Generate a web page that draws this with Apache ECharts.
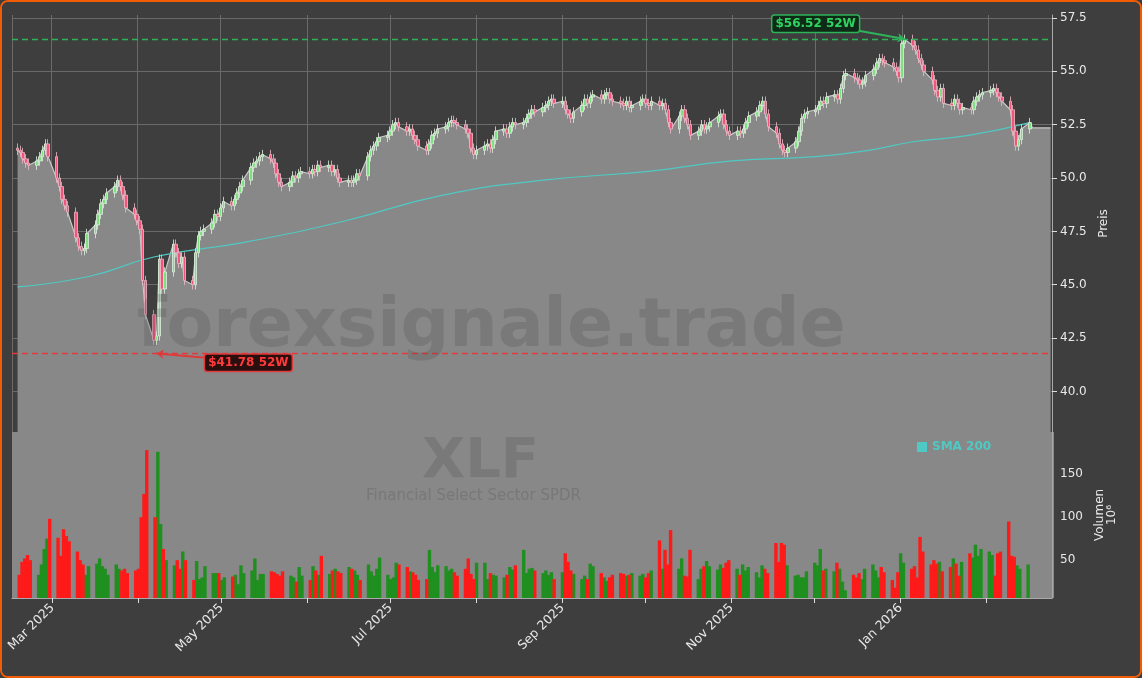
<!DOCTYPE html><html><head><meta charset="utf-8">
<script src="https://cdn.jsdelivr.net/npm/echarts@6/dist/echarts.min.js"></script>
<style>html,body{margin:0;padding:0;background:#3d3d3d}#c{position:absolute;left:0;top:0;width:1138px;height:674px;border:2px solid #f25c05;border-radius:8px;background:#3e3e3e;overflow:hidden}</style>
</head><body><div id="c"></div><script>
const startDate='2025-02-17';
const closes=[
51.3,51.2,50.9,50.7,50.6, 50.8,51.0,51.3,51.6,51.0, 50.0,49.6,49.0,48.7,48.4, 47.2,46.8,46.6,46.7,47.4,
47.8,48.3,48.8,49.0,49.3, 49.6,49.9,49.6,49.2,48.6, 48.3,48.0,47.6,45.2,43.6, 42.4,42.6,46.2,44.8,45.6,
46.9,46.5,46.0,46.3,45.2, 45.0,46.5,47.3,47.5,47.6, 47.9,48.3,48.2,48.6,48.9, 48.7,49.0,49.3,49.6,49.9,
50.5,50.7,50.8,51.0,51.1, 50.9,50.7,50.2,49.8,49.6, 49.8,50.1,50.0,50.2,50.3, 50.2,50.4,50.3,50.6,50.5,
50.6,50.3,50.4,50.0,49.8, 49.9,49.8,49.9,50.2,50.1, 51.0,51.3,51.5,51.7,51.9, 52.0,52.2,52.5,52.6,52.4,
52.2,52.3,52.0,51.8,51.5, 51.3,51.6,52.0,52.1,52.3, 52.4,52.6,52.7,52.6,52.5, 52.3,52.1,51.4,51.1,51.3,
51.5,51.6,51.4,51.8,52.2, 52.3,52.1,52.4,52.6,52.5, 52.6,52.8,53.0,53.2,53.1, 53.3,53.4,53.6,53.7,53.5,
53.6,53.2,53.0,52.8,53.1, 53.4,53.7,53.5,53.8,53.9, 53.7,53.9,54.0,53.7,53.6, 53.5,53.4,53.6,53.3,53.4,
53.6,53.7,53.5,53.4,53.6, 53.4,53.5,53.2,52.6,52.3, 52.9,53.2,52.8,52.5,52.0, 52.2,52.5,52.3,52.4,52.6,
52.9,53.0,52.5,52.2,52.0, 52.2,52.1,52.3,52.6,52.9, 53.1,53.4,53.6,53.0,52.4, 52.1,51.6,51.3,51.2,51.4,
51.7,52.2,52.8,53.0,53.1, 53.2,53.4,53.6,53.5,53.8, 53.9,53.7,54.2,54.8,54.9, 54.7,54.6,54.4,54.5,54.8,
55.1,55.4,55.6,55.5,55.4, 55.2,55.0,54.7,56.3,56.5, 56.2,56.0,55.6,55.3,55.0, 54.6,54.1,53.8,54.2,53.5,
53.4,53.7,53.5,53.2,53.3, 53.2,53.6,53.8,53.9,54.0, 54.1,54.2,54.0,53.8,53.6, 53.2,52.2,51.5,51.8,52.3, 52.6];
const firstOpen=51.4;
const volumes=[
33,48,52,56,50, 33,45,63,75,98, 76,55,86,78,72, 60,50,45,33,43, 46,52,43,40,33, 45,40,38,40,35,
38,40,100,127,178, 100,176,92,63,50, 44,50,40,60,50, 27,49,28,30,43, 35,35,35,27,30, 31,33,22,44,35,
38,52,27,34,34, 37,36,34,32,37, 32,30,25,42,32, 27,43,38,33,55, 34,38,40,37,35, 42,40,38,33,27,
45,37,32,40,53, 33,28,30,47,45, 42,37,36,33,27, 28,62,42,36,44, 43,38,40,36,32, 40,52,34,28,47,
47,28,35,33,32, 30,33,42,39,44, 62,35,40,41,38, 35,38,33,36,28, 36,58,48,38,34, 28,32,28,46,43,
35,30,26,30,33, 35,34,32,33,35, 32,34,30,35,38, 73,40,62,45,85, 40,52,32,31,62, 28,40,43,49,43,
39,45,41,47,50, 40,33,45,38,42, 36,30,44,40,35, 70,48,70,68,44, 32,33,30,30,37, 47,44,63,38,40,
37,47,40,25,15, 33,30,35,28,40, 45,38,30,42,36, 27,18,36,58,47, 40,43,30,77,60, 45,50,46,48,37,
42,52,46,32,48, 58,53,68,55,63, 60,56,32,58,60, 95,55,54,44,40, 45];
const smaPoints=[['2025-02-17',44.9],['2025-03-15',45.4],['2025-04-07',46.3],['2025-05-10',47.0],['2025-06-15',48.0],['2025-07-20',49.2],['2025-08-25',49.9],['2025-10-01',50.3],['2025-11-01',50.8],['2025-12-01',51.0],['2025-12-20',51.3],['2026-01-05',51.7],['2026-01-25',52.0],['2026-02-16',52.6]];
const high52=56.52, low52=41.78;
const priceTicks=[40,42.5,45,47.5,50,52.5,55,57.5];
const volTicks=[50,100,150];
const monNames=['Jan','Feb','Mar','Apr','May','Jun','Jul','Aug','Sep','Oct','Nov','Dec'];

const dates=[];let d=new Date(startDate+'T00:00:00Z');
while(dates.length<closes.length){const w=d.getUTCDay();if(w!==0&&w!==6)dates.push(d.getTime());d=new Date(d.getTime()+86400000);}
const candles=[],volUp=[],volDn=[],area=[];
closes.forEach((c,i)=>{const o=i?closes[i-1]:firstOpen;const hi=Math.max(o,c)+0.22,lo=Math.min(o,c)-0.22;
candles.push([dates[i],o,c,lo,hi]);area.push([dates[i],c]);
if(c>=o){volUp.push([dates[i],volumes[i]]);}else{volDn.push([dates[i],volumes[i]]);}});
const ts=s=>Date.parse(s+'T00:00:00Z');
const xMin=ts('2025-02-15'),xMax=ts('2026-02-24');
area.push([dates[dates.length-1]+86400000,52.35]);
area.push([xMax-43200000,52.35]);
const chart=echarts.init(document.getElementById('c'));
const txt='#e8e8e8';
const M=86400000;
chart.setOption({animation:false,backgroundColor:'#3e3e3e',
grid:[{left:10,right:88,top:13,height:417},{left:10,right:88,top:430,height:166}],
legend:{data:[{name:'SMA 200',icon:'rect'}],left:910,top:434,itemWidth:10,itemHeight:10,itemGap:4,textStyle:{color:'#4fc9c3',fontWeight:'bold',fontSize:12,fontFamily:'DejaVu Sans'}},
xAxis:[{type:'time',gridIndex:0,min:xMin,max:xMax,minInterval:28*M,maxInterval:31*M,axisLabel:{show:false},axisTick:{show:false},axisLine:{show:false},
 splitLine:{show:true,lineStyle:{color:'#6a6a6a',width:1}}},
 {type:'time',gridIndex:1,min:xMin,max:xMax,minInterval:28*M,maxInterval:31*M,axisLine:{lineStyle:{color:'#aaa'}},splitLine:{show:false},
 axisTick:{lineStyle:{color:'#ddd'}},
 axisLabel:{rotate:45,hideOverlap:false,color:txt,fontSize:12.5,fontFamily:'DejaVu Sans',formatter:v=>{const t=new Date(v);const m=t.getUTCMonth();return (m%2===0)?monNames[m]+' '+t.getUTCFullYear():'';}}}],
yAxis:[{type:'value',gridIndex:0,position:'right',min:38.1,max:57.64,name:'Preis',nameLocation:'middle',nameRotate:90,nameGap:38,nameTextStyle:{color:txt,fontSize:12,fontFamily:'DejaVu Sans'},
 axisLine:{show:true,lineStyle:{color:'#aaa'}},axisTick:{show:true,customValues:priceTicks,lineStyle:{color:'#ddd'}},
 axisLabel:{customValues:priceTicks,color:txt,fontSize:12,fontFamily:'DejaVu Sans',formatter:v=>v.toFixed(1)},splitLine:{show:true,lineStyle:{color:'#6a6a6a'}}},
 {type:'value',gridIndex:1,position:'right',min:6,max:199,name:'Volumen\n10⁶',nameLocation:'middle',nameRotate:90,nameGap:40,nameTextStyle:{color:txt,fontSize:12,fontFamily:'DejaVu Sans'},
 axisLine:{show:true,lineStyle:{color:'#aaa'}},axisTick:{customValues:volTicks,lineStyle:{color:'#ddd'}},
 axisLabel:{customValues:volTicks,color:txt,fontSize:12,fontFamily:'DejaVu Sans'},splitLine:{show:false}}],
graphic:[
 {type:'rect',z:-1,shape:{x:10,y:430,width:1042,height:166},style:{fill:'#888'}},
 {type:'text',left:135,top:292,z:100,silent:true,style:{text:'forexsignale.trade',fill:'rgba(70,70,70,0.22)',font:'bold 68px DejaVu Sans'}},
 {type:'text',left:420,top:432,z:100,silent:true,style:{text:'XLF',fill:'rgba(70,70,70,0.22)',font:'bold 56px DejaVu Sans'}},
 {type:'text',left:364,top:487,z:100,silent:true,style:{text:'Financial Select Sector SPDR',fill:'rgba(70,70,70,0.25)',font:'15px DejaVu Sans'}}
],
series:[
 {type:'line',name:'area',xAxisIndex:0,yAxisIndex:0,data:area,symbol:'none',z:1,lineStyle:{color:'#c8c8c8',width:1.2},areaStyle:{color:'#888',opacity:1,origin:'start'},silent:true},
 {type:'line',name:'SMA 200',xAxisIndex:0,yAxisIndex:0,data:smaPoints.map(p=>[ts(p[0]),p[1]]),smooth:true,symbol:'none',z:3,lineStyle:{color:'#4fc9c3',width:1.2},itemStyle:{color:'#4fc9c3'},
  markLine:{symbol:'none',silent:true,data:[
   {yAxis:high52,lineStyle:{color:'#2fb35a',type:[6,4],width:1.3},label:{show:false}},
   {yAxis:low52,lineStyle:{color:'#e03a3a',type:[6,4],width:1.3},label:{show:false}},
   [{coord:[ts('2025-12-10'),57.05],symbol:'none',label:{show:false},lineStyle:{color:'#2fb35a',type:'solid',width:2}},{coord:[ts('2026-01-02'),high52],symbol:'arrow',symbolSize:7}],
   [{coord:[ts('2025-05-03'),41.5],symbol:'none',label:{show:false},lineStyle:{color:'#e03a3a',type:'solid',width:2}},{coord:[ts('2025-04-08'),low52],symbol:'arrow',symbolSize:7}]
  ]},
  markPoint:{symbol:'rect',symbolSize:1,silent:true,data:[
   {coord:[ts('2025-12-01'),57.23],itemStyle:{color:'transparent'},label:{show:true,formatter:'$56.52 52W',color:'#2fd35f',fontWeight:'bold',fontSize:12,fontFamily:'DejaVu Sans',backgroundColor:'#0f2a17',borderColor:'#2fb35a',borderWidth:1.5,borderRadius:2,padding:[2,3]}},
   {coord:[ts('2025-05-11'),41.35],itemStyle:{color:'transparent'},label:{show:true,formatter:'$41.78 52W',color:'#ff3a3a',fontWeight:'bold',fontSize:12,fontFamily:'DejaVu Sans',backgroundColor:'#2a0f0f',borderColor:'#e03a3a',borderWidth:1.5,borderRadius:2,padding:[2,3]}}]}},
 {type:'candlestick',xAxisIndex:0,yAxisIndex:0,data:candles,barWidth:3,z:4,itemStyle:{color:'#7fe07f',color0:'#f2557a',borderColor:'#dfeee0',borderColor0:'#f0b8c6',borderWidth:0.8}},
 {type:'bar',xAxisIndex:1,yAxisIndex:1,data:volUp,barWidth:3.4,itemStyle:{color:'#1f8f1f'},barGap:'-100%'},
 {type:'bar',xAxisIndex:1,yAxisIndex:1,data:volDn,barWidth:3.4,itemStyle:{color:'#ff1a1a'},barGap:'-100%'}
]});
</script></body></html>
